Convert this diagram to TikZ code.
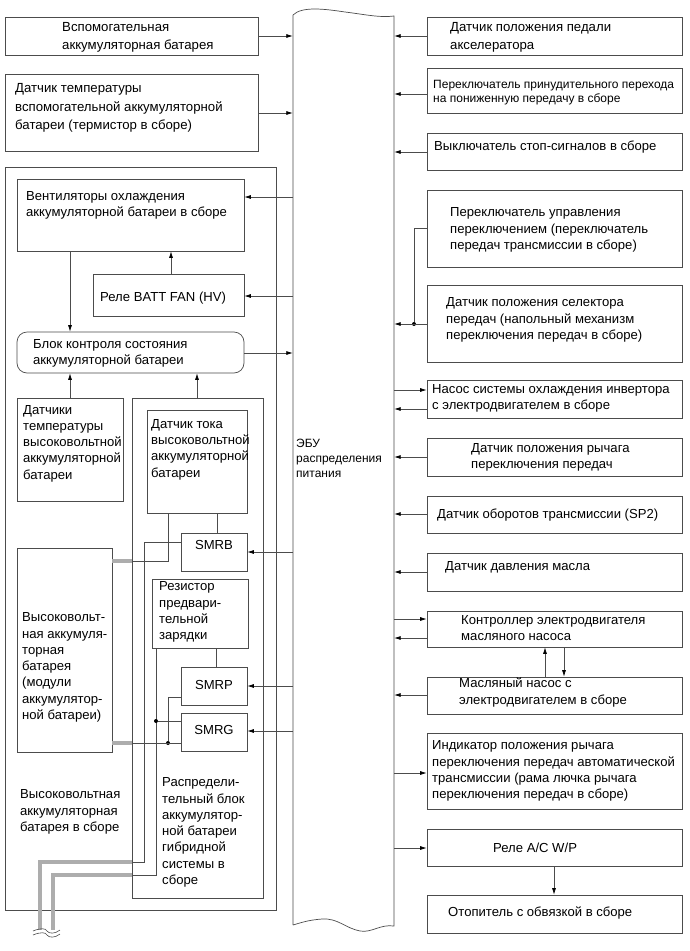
\documentclass[tikz,border=0pt]{standalone}
\usepackage{fontspec}
\setmainfont{Liberation Sans}
\usetikzlibrary{arrows.meta,fit}
\definecolor{linec}{gray}{0.3}
\definecolor{hvc}{gray}{0.68}
\newcommand\bx[6][]{\node[box,#1,fit={(#3,#4) (#5,#6)}] (#2) {};}
\begin{document}
\begin{tikzpicture}[x=1pt,y=-1pt,
  box/.style={draw=linec,line width=0.7pt,inner sep=0pt},
  txt/.style={font=\fontsize{13.1}{16.3}\selectfont,align=left,inner sep=0pt,anchor=west},
  txtb/.style={txt,font=\fontsize{13.2}{18.2}\selectfont},
  txts/.style={txt,font=\fontsize{12}{14}\selectfont},
  arr/.style={draw=linec,line width=0.7pt,-{Latex[length=6.5pt,width=4pt,color=black]}},
  wire/.style={draw=linec,line width=0.7pt},
  hv/.style={draw=hvc,line width=4pt},
  dotn/.style={circle,fill=black,inner sep=0pt,minimum size=4pt}]
\useasboundingbox (0,0) rectangle (690,951);
\fill[white] (0,0) rectangle (690,951);

% ECU
\node[inner sep=0pt,fit={(293,15) (394,925)}] (ecu) {};
\draw[wire] (293,925) -- (293,15) .. controls (302,6) and (325,9) .. (345,12)
  .. controls (362,14) and (380,18) .. (394,16) -- (394,926)
  .. controls (380,924) and (372,933) .. (360,931)
  .. controls (345,928) and (338,918) .. (322,919)
  .. controls (308,920) and (300,923) .. (293,925);
\node[txt,font=\fontsize{12}{15}\selectfont] (ecut) at (296,458) {ЭБУ\\распределения\\питания};

% Left side
\bx{l1}{5}{17}{258}{55}
\node[txtb] (l1t) at (62,37.5) {Вспомогательная\\аккумуляторная батарея};
\bx{l2}{5}{74}{258}{151}
\node[txtb] (l2t) at (15,108) {Датчик температуры\\вспомогательной аккумуляторной\\батареи (термистор в сборе)};
\bx{outer}{5}{167}{276}{910}
\bx{fan}{17}{179}{244}{251}
\node[txt] (fant) at (26,205) {Вентиляторы охлаждения\\аккумуляторной батареи в сборе};
\bx{relay}{93}{274}{244}{316}
\node[txt] (relayt) at (100,298) {Реле BATT FAN (HV)};
\bx[rounded corners=10pt]{mon}{17}{332}{244}{373}
\node[txt] (mont) at (33,353.5) {Блок контроля состояния\\аккумуляторной батареи};
\bx{temp}{17}{398}{123}{501}
\node[txt] (tempt) at (23,443.5) {Датчики\\температуры\\высоковольтной\\аккумуляторной\\батареи};
\bx{dist}{132}{398}{263}{898}
\bx{cur}{147}{410}{247}{513}
\node[txt] (curt) at (151,449.5) {Датчик тока\\высоковольтной\\аккумуляторной\\батареи};
\bx{smrb}{181}{533}{247}{571}
\node[txt,anchor=center] (smrbt) at (214,545) {SMRB};
\bx{hvb}{17}{548}{112}{752}
\node[txt] (hvbt) at (22,667.5) {Высоковольт-\\ная аккумуля-\\торная\\батарея\\(модули\\аккумулятор-\\ной батареи)};
\bx{res}{152}{579}{248}{648}
\node[txt] (rest) at (159,612) {Резистор\\предвари-\\тельной\\зарядки};
\bx{smrp}{181}{667}{247}{705}
\node[txt,anchor=center] (smrpt) at (214,685) {SMRP};
\bx{smrg}{181}{713}{247}{751}
\node[txt,anchor=center] (smrgt) at (214,730) {SMRG};
\node[txt] (outert) at (20,812) {Высоковольтная\\аккумуляторная\\батарея в сборе};
\node[txt] (distt) at (162,832.5) {Распредели-\\тельный блок\\аккумулятор-\\ной батареи\\гибридной\\системы в\\сборе};

% left arrows
\draw[arr] (l1.east |- 0,36) -- (ecu.west |- 0,36);
\draw[arr] (l2.east |- 0,113) -- (ecu.west |- 0,113);
\draw[arr] (ecu.west |- 0,197) -- (fan.east |- 0,197);
\draw[arr] (ecu.west |- 0,296) -- (relay.east |- 0,296);
\draw[arr] (mon.east |- 0,353) -- (ecu.west |- 0,353);
\draw[arr] (ecu.west |- 0,552) -- (smrb.east |- 0,552);
\draw[arr] (ecu.west |- 0,686) -- (smrp.east |- 0,686);
\draw[arr] (ecu.west |- 0,731) -- (smrg.east |- 0,731);
\draw[arr] (relay.north -| 171,0) -- (fan.south -| 171,0);
\draw[arr] (fan.south -| 70,0) -- (mon.north -| 70,0);
\draw[arr] (temp.north -| 70,0) -- (mon.south -| 70,0);
\draw[arr] (dist.north -| 197,0) -- (mon.south -| 197,0);

% wires
\draw[hv] (hvb.east |- 0,561) -- (dist.west |- 0,561);
\draw[wire] (dist.west |- 0,561) -| (cur.south -| 168,0);
\draw[wire] (cur.south -| 217,0) -- (smrb.north -| 217,0);
\draw[wire] (smrb.west |- 0,542) -| (144,862) -- (dist.west |- 0,862);
\draw[hv] (dist.west |- 0,862) -| (40,930);
\draw[wire] (res.south -| 156,0) |- (dist.west |- 0,875);
\draw[hv] (dist.west |- 0,875) -| (53,930);
\node[dotn] (d1) at (156,721) {};
\draw[wire] (d1) -- (smrg.west |- 0,721);
\draw[wire] (res.south -| 216,0) -- (smrp.north -| 216,0);
\node[dotn] (d2) at (168,743) {};
\draw[wire] (smrp.west |- 0,697) -| (d2);
\draw[hv] (hvb.east |- 0,743) -- (dist.west |- 0,743);
\draw[wire] (dist.west |- 0,743) -- (smrg.west |- 0,743);
\draw[linec,line width=0.6pt] (33,931) .. controls (40,928) and (46,928) .. (47,931) .. controls (49,934) and (55,934) .. (60,930);
\draw[linec,line width=0.6pt] (33,935) .. controls (40,932) and (46,932) .. (47,935) .. controls (49,938) and (55,938) .. (60,934);

% Right side
\bx{r1}{427}{17}{682}{55}
\node[txtb] (r1t) at (450,37.5) {Датчик положения педали\\акселератора};
\bx{r2}{427}{68}{682}{113}
\node[txts] (r2t) at (433,93) {Переключатель принудительного перехода\\на пониженную передачу в сборе};
\bx{r3}{427}{133}{682}{170}
\node[txt] (r3t) at (434,147) {Выключатель стоп-сигналов в сборе};
\bx{r4}{427}{190}{682}{267}
\node[txt] (r4t) at (450,230) {Переключатель управления\\переключением (переключатель\\передач трансмиссии в сборе)};
\bx{r5}{427}{285}{682}{362}
\node[txt] (r5t) at (446,320) {Датчик положения селектора\\передач (напольный механизм\\переключения передач в сборе)};
\bx{r6}{427}{380}{682}{418}
\node[txt] (r6t) at (432,398.5) {Насос системы охлаждения инвертора\\с электродвигателем в сборе};
\bx{r7}{427}{438}{682}{476}
\node[txt] (r7t) at (471,457) {Датчик положения рычага\\переключения передач};
\bx{r8}{427}{496}{682}{533}
\node[txt] (r8t) at (437,515) {Датчик оборотов трансмиссии (SP2)};
\bx{r9}{427}{553}{682}{591}
\node[txt] (r9t) at (445,567) {Датчик давления масла};
\bx{r10}{427}{611}{682}{647}
\node[txt] (r10t) at (461,628) {Контроллер электродвигателя\\масляного насоса};
\bx{r11}{427}{677}{682}{714}
\node[txt] (r11t) at (459,692.5) {Масляный насос с\\электродвигателем в сборе};
\bx{r12}{427}{733}{682}{809}
\node[txt] (r12t) at (432,771) {Индикатор положения рычага\\переключения передач автоматической\\трансмиссии (рама лючка рычага\\переключения передач в сборе)};
\bx{r13}{427}{829}{682}{866}
\node[txt] (r13t) at (493,848) {Реле A/C W/P};
\bx{r14}{427}{895}{682}{933}
\node[txt] (r14t) at (448,913) {Отопитель с обвязкой в сборе};

% right arrows
\draw[arr] (r1.west |- 0,36) -- (ecu.east |- 0,36);
\draw[arr] (r2.west |- 0,94) -- (ecu.east |- 0,94);
\draw[arr] (r3.west |- 0,152) -- (ecu.east |- 0,152);
\node[dotn] (d3) at (414,324) {};
\draw[wire] (r4.west |- 0,228) -| (d3);
\draw[arr] (r5.west |- 0,324) -- (ecu.east |- 0,324);
\draw[arr] (ecu.east |- 0,390) -- (r6.west |- 0,390);
\draw[arr] (r6.west |- 0,409) -- (ecu.east |- 0,409);
\draw[arr] (r7.west |- 0,457) -- (ecu.east |- 0,457);
\draw[arr] (r8.west |- 0,514) -- (ecu.east |- 0,514);
\draw[arr] (r9.west |- 0,572) -- (ecu.east |- 0,572);
\draw[arr] (ecu.east |- 0,619) -- (r10.west |- 0,619);
\draw[arr] (r10.west |- 0,638) -- (ecu.east |- 0,638);
\draw[arr] (r11.north -| 545,0) -- (r10.south -| 545,0);
\draw[arr] (r10.south -| 564,0) -- (r11.north -| 564,0);
\draw[arr] (r11.west |- 0,695) -- (ecu.east |- 0,695);
\draw[arr] (ecu.east |- 0,773) -- (r12.west |- 0,773);
\draw[arr] (ecu.east |- 0,848) -- (r13.west |- 0,848);
\draw[arr] (r13.south -| 554,0) -- (r14.north -| 554,0);
\end{tikzpicture}
\end{document}
